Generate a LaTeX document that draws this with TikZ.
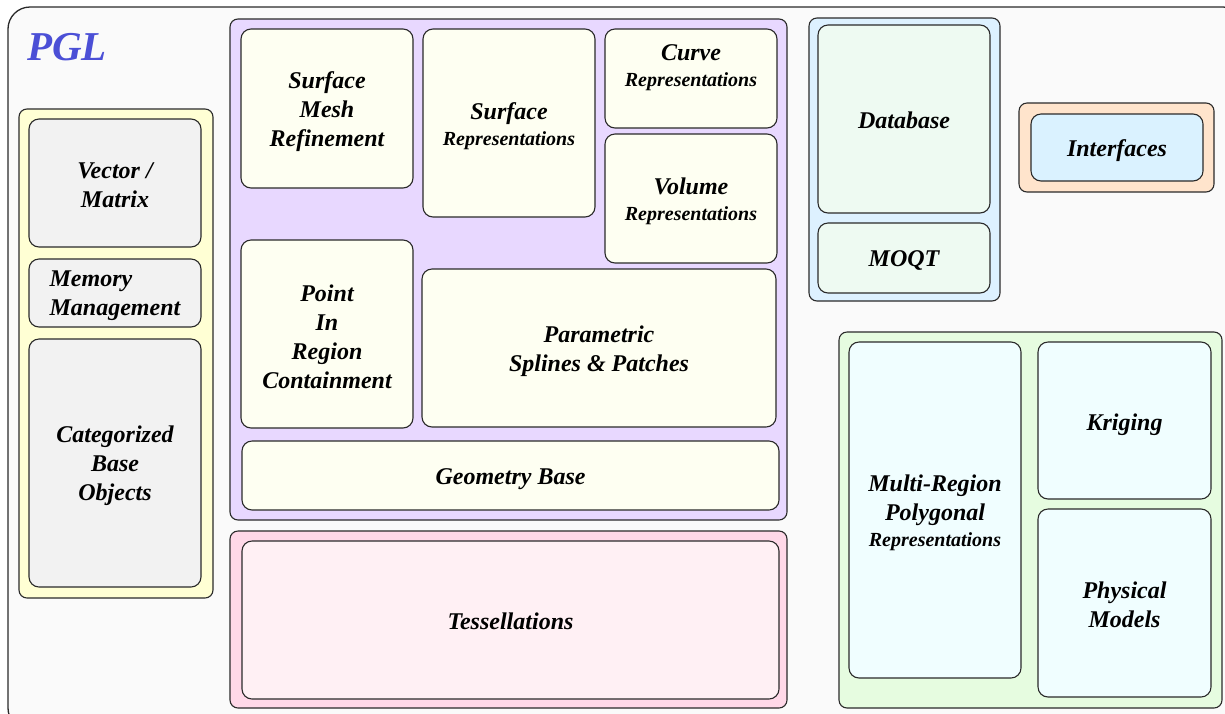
\documentclass[tikz,border=0pt]{standalone}
\usepackage{fontspec}
\setmainfont{Liberation Serif}
\definecolor{framefill}{HTML}{FAFAFA}
\definecolor{edge}{HTML}{2A2A2A}
\definecolor{yelgroup}{HTML}{FFFFD4}
\definecolor{grayin}{HTML}{F2F2F2}
\definecolor{purgroup}{HTML}{E8D8FF}
\definecolor{ivoryin}{HTML}{FEFFF2}
\definecolor{pinkgroup}{HTML}{FFD8E8}
\definecolor{pinkin}{HTML}{FFF0F4}
\definecolor{bluegroup}{HTML}{DDF1FF}
\definecolor{dbin}{HTML}{EEFAF2}
\definecolor{peachgroup}{HTML}{FFE4CC}
\definecolor{ifin}{HTML}{DAF2FF}
\definecolor{greengroup}{HTML}{E6FCE0}
\definecolor{cyanin}{HTML}{F0FEFF}
\definecolor{pglblue}{HTML}{4B4FD6}
\tikzset{
  area/.style={draw=edge, line width=1.1pt, rounded corners=8pt, inner sep=0pt, outer sep=0pt},
  part/.style={draw=edge, line width=1.1pt, rounded corners=10pt, inner sep=0pt, outer sep=0pt},
  lbl/.style={align=center, inner sep=0pt, font=\fontsize{24}{29}\selectfont\bfseries\itshape},
}
\newcommand\smalltxt[1]{{\fontsize{20}{24}\selectfont #1}}
% \grp{name}{style}{x1}{y1}{x2}{y2}: a group panel
\newcommand\grp[6]{%
  \node[#2, minimum width=#5pt-#3pt, minimum height=#6pt-#4pt]
    (#1) at ({(#3+#5)/2},{(#4+#6)/2}) {};}
% \blk{name}{style}{x1}{y1}{x2}{y2}{text}{extra drop of the text}
\newcommand\blk[8]{%
  \grp{#1}{#2}{#3}{#4}{#5}{#6}
  \node[lbl] (#1-t) at ([yshift=-#8pt]#1.center) {#7};}
\begin{document}
\begin{tikzpicture}[x=1pt,y=-1pt]
\useasboundingbox (0,0) rectangle (1225,713);
\begin{scope}
\clip (0,0) rectangle (1225,713);
\grp{frame}{area, fill=framefill, rounded corners=22pt, line width=1.3pt}{8}{7}{1245}{730}
\end{scope}
\node[font=\fontsize{41}{41}\selectfont\bfseries\itshape, text=pglblue, inner sep=0pt] (pgl) at (67,47) {PGL};

% foundation column
\grp{found}{area, fill=yelgroup}{19}{109}{213}{598}
\blk{vecmat}{part, fill=grayin}{29}{119}{201}{247}{Vector /\\Matrix}{2}
\blk{memory}{part, fill=grayin}{29}{259}{201}{327}{\begin{tabular}{@{}l@{}}Memory\\Management\end{tabular}}{2}
\blk{catbase}{part, fill=grayin}{29}{339}{201}{587}{Categorized\\Base\\Objects}{3}

% geometry group
\grp{geom}{area, fill=purgroup}{230}{19}{787}{520}
\blk{smr}{part, fill=ivoryin}{241}{29}{413}{188}{Surface\\Mesh\\Refinement}{3}
\blk{surfrep}{part, fill=ivoryin}{423}{29}{595}{217}{Surface\\[-3pt]\smalltxt{Representations}}{3}
\blk{curve}{part, fill=ivoryin}{605}{29}{777}{128}{Curve\\[-3pt]\smalltxt{Representations}}{-11}
\blk{volume}{part, fill=ivoryin}{605}{134}{777}{263}{Volume\\[-3pt]\smalltxt{Representations}}{3}
\blk{pir}{part, fill=ivoryin}{241}{240}{413}{428}{Point\\In\\Region\\Containment}{3}
\blk{splines}{part, fill=ivoryin}{422}{269}{776}{427}{Parametric\\Splines \& Patches}{3}
\blk{geobase}{part, fill=ivoryin}{242}{441}{779}{510}{Geometry Base}{4}

% tessellations
\grp{tessgrp}{area, fill=pinkgroup}{230}{531}{787}{708}
\blk{tess}{part, fill=pinkin}{242}{541}{779}{699}{Tessellations}{1}

% storage
\grp{store}{area, fill=bluegroup}{809}{18}{1000}{301}
\blk{db}{part, fill=dbin}{818}{25}{990}{213}{Database}{1}
\blk{moqt}{part, fill=dbin}{818}{223}{990}{293}{MOQT}{2}

% interfaces
\grp{ifgrp}{area, fill=peachgroup}{1019}{103}{1214}{192}
\blk{iface}{part, fill=ifin}{1031}{114}{1203}{181}{Interfaces}{3}

% modelling group
\grp{model}{area, fill=greengroup}{839}{332}{1222}{708}
\blk{multireg}{part, fill=cyanin}{849}{342}{1021}{678}{Multi-Region\\Polygonal\\[-3pt]\smalltxt{Representations}}{3}
\blk{kriging}{part, fill=cyanin}{1038}{342}{1211}{499}{Kriging}{4}
\blk{physical}{part, fill=cyanin}{1038}{509}{1211}{697}{Physical\\Models}{2}
\end{tikzpicture}
\end{document}
